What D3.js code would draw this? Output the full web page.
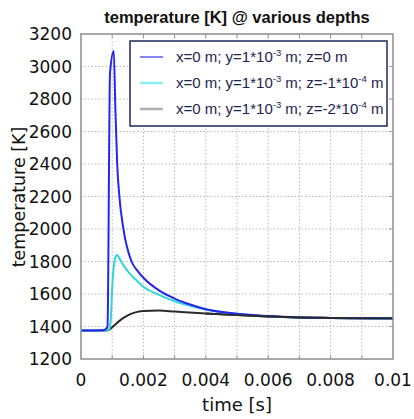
<!DOCTYPE html>
<html>
<head>
<meta charset="utf-8">
<script src="https://cdn.jsdelivr.net/npm/d3@7"></script>
<style>
  body { margin: 0; background: #fff; }
  svg { display: block; }
</style>
</head>
<body>
<div id="chart"></div>
<script>
// time [s] / temperature [K] samples
const timeBlue = [0, 0.0007, 0.0008, 0.00085, 0.00093, 0.00105, 0.0011, 0.00116, 0.00123, 0.00136, 0.00162, 0.0018, 0.002, 0.0025, 0.003, 0.0035, 0.004, 0.005, 0.006, 0.007, 0.008, 0.009, 0.01];
const tempBlue = [1375, 1377, 1385, 1400, 2960, 3095, 2750, 2400, 2200, 2000, 1800, 1745, 1700, 1622, 1572, 1535, 1506, 1478, 1464, 1456, 1452, 1451, 1450];

const timeCyan = [0, 0.0008, 0.0009, 0.00095, 0.001, 0.00105, 0.0011, 0.00115, 0.0013, 0.0015, 0.0018, 0.002, 0.0025, 0.003, 0.0035, 0.004, 0.005, 0.006, 0.007, 0.008, 0.009, 0.01];
const tempCyan = [1375, 1377, 1382, 1430, 1640, 1770, 1825, 1840, 1795, 1740, 1680, 1645, 1595, 1555, 1527, 1505, 1478, 1462, 1455, 1452, 1451, 1450];

const timeBlack = [0, 0.0008, 0.0009, 0.001, 0.0012, 0.0014, 0.0016, 0.0018, 0.002, 0.0025, 0.003, 0.004, 0.005, 0.006, 0.007, 0.008, 0.009, 0.01];
const tempBlack = [1375, 1376, 1380, 1395, 1430, 1458, 1478, 1490, 1496, 1498, 1492, 1480, 1470, 1462, 1456, 1453, 1451, 1450];

const xTicks = [0, 0.002, 0.004, 0.006, 0.008, 0.01];
const xGrid = [0.001, 0.002, 0.003, 0.004, 0.005, 0.006, 0.007, 0.008, 0.009];
const yTicks = [1200, 1400, 1600, 1800, 2000, 2200, 2400, 2600, 2800, 3000, 3200];

const legendLabels = [
  ["x=0 m; y=1*10", "-3", " m; z=0 m"],
  ["x=0 m; y=1*10", "-3", " m; z=-1*10", "-4", " m"],
  ["x=0 m; y=1*10", "-3", " m; z=-2*10", "-4", " m"]
];

const W = 414, H = 419;
const margin = { top: 34, right: 21, bottom: 60, left: 81 };
const width = W - margin.left - margin.right;
const height = H - margin.top - margin.bottom;

const svg = d3.select("#chart").append("svg")
  .attr("width", W)
  .attr("height", H);

const g = svg.append("g")
  .attr("transform", `translate(${margin.left},${margin.top})`);

const xScale = d3.scaleLinear().domain([0, 0.01]).range([0, width]);
const yScale = d3.scaleLinear().domain([1200, 3200]).range([height, 0]);

// grid
g.selectAll(".vgrid").data(xGrid).enter().append("line")
  .attr("x1", d => xScale(d)).attr("x2", d => xScale(d))
  .attr("y1", 0).attr("y2", height)
  .style("stroke", "#b8b8b8").style("stroke-dasharray", "1.5,2");

g.selectAll(".hgrid").data(yTicks.slice(1, -1)).enter().append("line")
  .attr("x1", 0).attr("x2", width)
  .attr("y1", d => yScale(d)).attr("y2", d => yScale(d))
  .style("stroke", "#b8b8b8").style("stroke-dasharray", "1.5,2");

// small ticks on frame
g.selectAll(".ttick").data(xGrid).enter().append("line")
  .attr("x1", d => xScale(d)).attr("x2", d => xScale(d))
  .attr("y1", 0).attr("y2", 4)
  .style("stroke", "#999");
g.selectAll(".btick").data(xGrid).enter().append("line")
  .attr("x1", d => xScale(d)).attr("x2", d => xScale(d))
  .attr("y1", height).attr("y2", height - 4)
  .style("stroke", "#999");
g.selectAll(".rtick").data(yTicks.slice(1, -1)).enter().append("line")
  .attr("x1", width).attr("x2", width - 4)
  .attr("y1", d => yScale(d)).attr("y2", d => yScale(d))
  .style("stroke", "#999");

// lines
const line = d3.line()
  .x(d => xScale(d[0]))
  .y(d => yScale(d[1]))
  .curve(d3.curveMonotoneX);

const series = [
  { t: timeBlack, v: tempBlack, color: "#2a2a2a" },
  { t: timeCyan, v: tempCyan, color: "#2fd6d6" },
  { t: timeBlue, v: tempBlue, color: "#2626ee" }
];
series.forEach(s => {
  g.append("path")
    .datum(d3.zip(s.t, s.v))
    .attr("fill", "none")
    .attr("stroke", s.color)
    .attr("stroke-width", 2)
    .attr("stroke-linejoin", "round")
    .attr("d", line);
});
// black tail sits on top in the plot
g.append("path")
  .datum(d3.zip(timeBlack, tempBlack).filter(d => d[0] >= 0.004))
  .attr("fill", "none")
  .attr("stroke", "#2a2a2a")
  .attr("stroke-width", 2)
  .attr("d", line);

// frame
g.append("rect")
  .attr("width", width).attr("height", height)
  .style("fill", "none").style("stroke", "#8c8c8c").style("stroke-width", 1.5);

// axes labels
const tickFont = "'DejaVu Sans', Verdana, sans-serif";

g.selectAll(".ylab").data(yTicks).enter().append("text")
  .attr("x", -9).attr("y", d => yScale(d))
  .attr("dy", "0.36em")
  .attr("text-anchor", "end")
  .style("font-family", tickFont).style("font-size", "17px").style("fill", "#111")
  .text(d => d);

g.selectAll(".xlab").data(xTicks).enter().append("text")
  .attr("x", d => xScale(d)).attr("y", height + 27)
  .attr("text-anchor", "middle")
  .style("font-family", tickFont).style("font-size", "17px").style("fill", "#111")
  .text(d => d === 0 ? "0" : d3.format(".3~f")(d));

svg.append("text")
  .attr("x", 237).attr("y", 411)
  .attr("text-anchor", "middle")
  .style("font-family", tickFont).style("font-size", "18px").style("fill", "#111")
  .text("time [s]");

svg.append("text")
  .attr("transform", "translate(25,197) rotate(-90)")
  .attr("text-anchor", "middle")
  .style("font-family", tickFont).style("font-size", "17.5px").style("fill", "#111")
  .text("temperature [K]");

svg.append("text")
  .attr("x", 237).attr("y", 23)
  .attr("text-anchor", "middle")
  .style("font-family", "'Liberation Sans', Arial, sans-serif")
  .style("font-weight", "bold").style("font-size", "16.5px").style("fill", "#111")
  .text("temperature [K] @ various depths");

// legend
const legendColors = ["#5a5aff", "#86f0ee", "#b0b0b0"];
const lg = svg.append("g");
lg.append("rect")
  .attr("x", 130).attr("y", 41).attr("width", 257).attr("height", 85)
  .style("fill", "#fff").style("stroke", "#1c2a5c").style("stroke-width", 1.5);

legendLabels.forEach((parts, i) => {
  const y = 57 + i * 26;
  lg.append("line")
    .attr("x1", 140).attr("x2", 163).attr("y1", y).attr("y2", y)
    .style("stroke", legendColors[i]).style("stroke-width", i === 0 ? 1.5 : 2.5);
  const txt = lg.append("text")
    .attr("x", 176).attr("y", y + 5)
    .style("font-family", "'Liberation Sans', Arial, sans-serif")
    .style("font-size", "15px").style("fill", "#1c2450");
  parts.forEach((p, j) => {
    const ts = txt.append("tspan").text(p);
    if (j % 2 === 1) {
      ts.style("font-size", "9.5px").attr("dy", "-6");
    } else if (j > 0) {
      ts.attr("dy", "6");
    }
  });
});
</script>
</body>
</html>
